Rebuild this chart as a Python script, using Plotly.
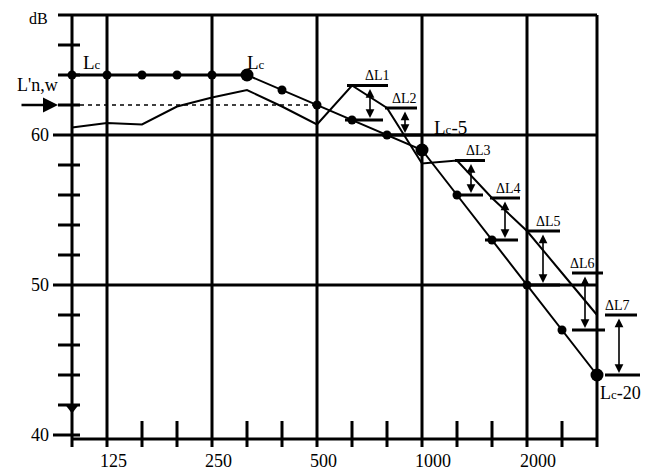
import plotly.graph_objects as go

# ---------------- data ----------------
freqs = [100, 125, 160, 200, 250, 315, 400, 500, 630, 800, 1000, 1250, 1600, 2000, 2500, 3150]
measured = [60.5, 60.8, 60.7, 61.9, 62.5, 63.0, 61.9, 60.7, 63.3, 61.8, 58.1, 58.3, 55.8, 53.6, 50.8, 48.0]
reference = [64, 64, 64, 64, 64, 64, 63, 62, 61, 60, 59, 56, 53, 50, 47, 44]
lnw_value = 62
extra_point_freq = 100
extra_point_value = 41.8

x_tick_freqs = [125, 250, 500, 1000, 2000]
x_tick_labels = ["125", "250", "500", "1000", "2000"]
y_major = [40, 50, 60]
y_major_labels = ["40", "50", "60"]
y_minor = [42, 44, 46, 48, 52, 54, 56, 58, 62, 64, 66]
y_top = 68

delta_freqs = [630, 800, 1250, 1600, 2000, 2500, 3150]
delta_labels = ["ΔL1", "ΔL2", "ΔL3", "ΔL4", "ΔL5", "ΔL6", "ΔL7"]

# ---------------- styles / positions (pixels) ----------------
PX_PER_STEP = 35.0
PX_PER_DB = 15.0
X0_PX = 72.0      # reference pixel of 100 Hz
Y60_PX = 135.0    # reference pixel of 60 dB
PAGE_W, PAGE_H = 650, 471
BODY = 8          # page body margin
W, H = PAGE_W - BODY, PAGE_H - BODY

def dx(px):
    return px / PX_PER_STEP

def ddb(px):
    return px / PX_PER_DB

def idx(f):
    return freqs.index(f)

# bracket offsets in px relative to the frequency position
upper_span = [(-5, 36), (-2, 30), (-2, 28), (-2, 28), (1, 33), (10, 41), (8, 40)]
lower_span = [(-7, 31), (-5, 36), (-4, 26), (-7, 26), (1, 33), (10, 43), (8, 43)]
arrow_off = [18, 18, 14, 13, 16, 23, 22]
label_off = [25, 17, 21, 16, 21, 20, 20]

BLACK = "#000000"
FONT = "Liberation Serif, Times New Roman, serif"

x_idx = list(range(len(freqs)))

fig = go.Figure()

shapes = []

def hline(y, x0, x1, width=3, dash=None):
    d = dict(type="line", xref="x", yref="y", x0=x0, x1=x1, y0=y, y1=y,
             line=dict(color=BLACK, width=width))
    if dash:
        d["line"]["dash"] = dash
    shapes.append(d)

def vline(x, y0, y1, width=3):
    shapes.append(dict(type="line", xref="x", yref="y", x0=x, x1=x, y0=y0, y1=y1,
                       line=dict(color=BLACK, width=width)))

last = len(freqs) - 1
y_bottom_axis = 60 - ddb(439 - Y60_PX)
y_tick_low = 60 - ddb(447 - Y60_PX)
y_xtick_top = 60 - ddb(421 - Y60_PX)

# frame / axes
vline(0, y_top + ddb(1), y_tick_low, 3)
vline(last, y_top, y_tick_low, 3)
hline(y_bottom_axis, 0, last, 3)
hline(y_top, -dx(14), last, 3)
for f in x_tick_freqs:
    vline(idx(f), y_top, y_tick_low, 3)
for v in y_major[1:]:
    hline(v, -dx(19), last, 3)
hline(y_major[0], -dx(19), dx(8), 3)
for v in y_minor:
    hline(v, -dx(14), dx(8), 3)
for i in x_idx:
    if freqs[i] not in x_tick_freqs and i not in (0, last):
        vline(i, y_xtick_top, y_tick_low, 3)

# L'n,w dashed line
hline(lnw_value, 0, idx(500), 1.5, dash="4px,4px")

# delta brackets
for k, f in enumerate(delta_freqs):
    i = idx(f)
    up = measured[i]
    lo = reference[i]
    hline(up, i + dx(upper_span[k][0]), i + dx(upper_span[k][1]), 3)
    hline(lo, i + dx(lower_span[k][0]), i + dx(lower_span[k][1]), 3)

# ---------------- traces ----------------
fig.add_trace(go.Scatter(x=x_idx, y=measured, mode="lines",
                         line=dict(color=BLACK, width=2), hoverinfo="skip", showlegend=False))
flat_end = idx(315)
fig.add_trace(go.Scatter(x=x_idx[:flat_end + 1], y=reference[:flat_end + 1], mode="lines",
                         line=dict(color=BLACK, width=3), hoverinfo="skip", showlegend=False))
fig.add_trace(go.Scatter(x=x_idx[flat_end:], y=reference[flat_end:], mode="lines",
                         line=dict(color=BLACK, width=2), hoverinfo="skip", showlegend=False))
big = [315, 1000, 3150]
sizes = [13 if f in big else 9 for f in freqs]
fig.add_trace(go.Scatter(x=x_idx, y=reference, mode="markers",
                         marker=dict(color=BLACK, size=sizes, opacity=1, line=dict(width=0)),
                         cliponaxis=False, hoverinfo="skip", showlegend=False))
fig.add_trace(go.Scatter(x=[idx(extra_point_freq)], y=[extra_point_value], mode="markers",
                         marker=dict(color=BLACK, size=11, symbol="triangle-down", line=dict(width=0)),
                         hoverinfo="skip", showlegend=False))

annotations = []

def text(x, y, s, size=18, xanchor="center", yanchor="middle"):
    annotations.append(dict(x=x, y=y, xref="x", yref="y", text=s, showarrow=False,
                            xanchor=xanchor, yanchor=yanchor,
                            font=dict(family=FONT, size=size, color=BLACK)))

LC = "L<span style='font-size:13px'>c</span>"

# tick labels
for f, lab in zip(x_tick_freqs, x_tick_labels):
    text(idx(f) - dx(9), 60 - ddb(461 - Y60_PX), lab, 18, xanchor="left")
for v, lab in zip(y_major, y_major_labels):
    text(-dx(21), v, lab, 18, xanchor="right")
text(-dx(34), y_top - ddb(3), "dB", 16)

# curve labels
text(dx(92 - X0_PX), 60 + ddb(Y60_PX - 62), LC, 19)
text(dx(256 - X0_PX), 60 + ddb(Y60_PX - 62), LC, 19)
text(dx(37 - X0_PX), 60 + ddb(Y60_PX - 85), "L'n,w", 18)
text(idx(1000) + dx(10), reference[idx(1000)] + ddb(23), LC + "-5", 19, xanchor="left")
text(idx(3150) + dx(1), reference[idx(3150)] - ddb(18), LC + "-20", 18, xanchor="left")

# L'n,w arrow
annotations.append(dict(x=-dx(14), y=lnw_value, ax=-dx(52), ay=lnw_value, xref="x", yref="y",
                        axref="x", ayref="y", text="", showarrow=True, arrowhead=2,
                        arrowsize=1.2, arrowwidth=2.5, arrowcolor=BLACK))

# delta arrows and labels
for k, f in enumerate(delta_freqs):
    i = idx(f)
    up = measured[i]
    lo = reference[i]
    xa = i + dx(arrow_off[k])
    annotations.append(dict(x=xa, y=lo + ddb(2), ax=xa, ay=up - ddb(2), xref="x", yref="y",
                            axref="x", ayref="y", text="", showarrow=True,
                            arrowside="end+start", arrowhead=2, startarrowhead=2,
                            arrowsize=1.1, startarrowsize=1.1, arrowwidth=1.6, arrowcolor=BLACK))
    annotations.append(dict(x=i + dx(label_off[k]), y=up + ddb(10), xref="x", yref="y",
                            text=delta_labels[k], showarrow=False, xanchor="center", yanchor="middle",
                            font=dict(family=FONT, size=14, color=BLACK)))

fig.update_layout(
    width=W, height=H,
    margin=dict(l=0, r=0, t=0, b=0),
    paper_bgcolor="white", plot_bgcolor="white",
    xaxis=dict(visible=False, range=[-(X0_PX - BODY) / PX_PER_STEP, (PAGE_W - X0_PX) / PX_PER_STEP],
               fixedrange=True),
    yaxis=dict(visible=False, range=[60 - (PAGE_H - Y60_PX) / PX_PER_DB, 60 + (Y60_PX - BODY) / PX_PER_DB],
               fixedrange=True),
    shapes=shapes,
    annotations=annotations,
    showlegend=False,
)

fig.write_html("out.html")
